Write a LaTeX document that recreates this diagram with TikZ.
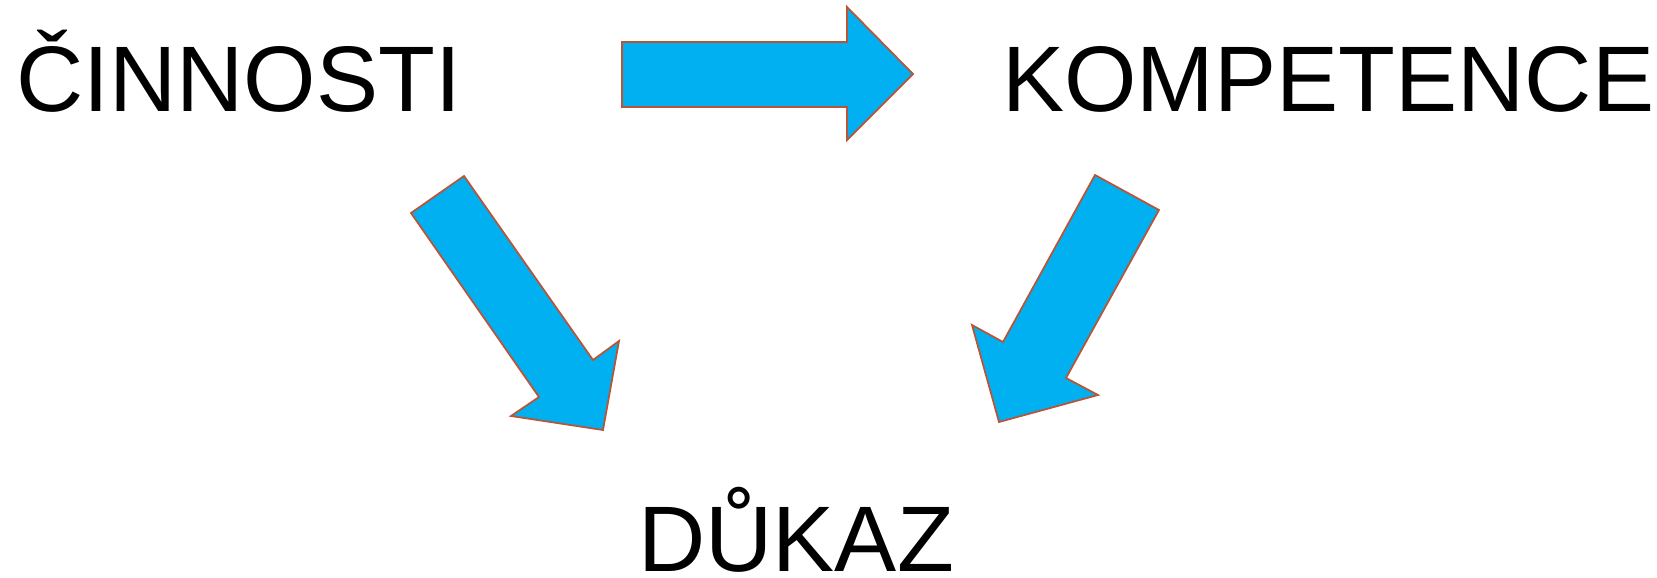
\documentclass[tikz,border=0pt]{standalone}
\usepackage{fontspec}
\setmainfont{Liberation Sans}
\definecolor{arrowfill}{RGB}{0,176,240}
\definecolor{arrowline}{RGB}{185,85,55}

\begin{document}
\begin{tikzpicture}[x=0.02cm,y=-0.02cm,
  word/.style={anchor=base west,inner sep=0pt,text depth=0pt,font=\fontsize{53}{60}\selectfont},
  blockarrow/.style={fill=arrowfill,draw=arrowline,line width=1pt,line join=miter}]
\useasboundingbox (0,0) rectangle (1657,578);
\node[word] (cinnosti) at (16,111) {ČINNOSTI};
\node[word] (kompetence) at (1002,111) {KOMPETENCE};
\node[word] (dukaz) at (638,571) {DŮKAZ};
% top arrow
\draw[blockarrow] (622,42) -- (847,42) -- (847,7) -- (913,74) -- (847,140) -- (847,107) -- (622,107) -- cycle;
% left arrow
\draw[blockarrow] (411,213) -- (464,176) -- (593,360) -- (619,341) -- (603,430) -- (511,416) -- (539,397) -- cycle;
% right arrow
\draw[blockarrow] (1095,175) -- (1159,210) -- (1066,378) -- (1098,395) -- (999,422) -- (972,325) -- (1003,342) -- cycle;
\end{tikzpicture}
\end{document}
